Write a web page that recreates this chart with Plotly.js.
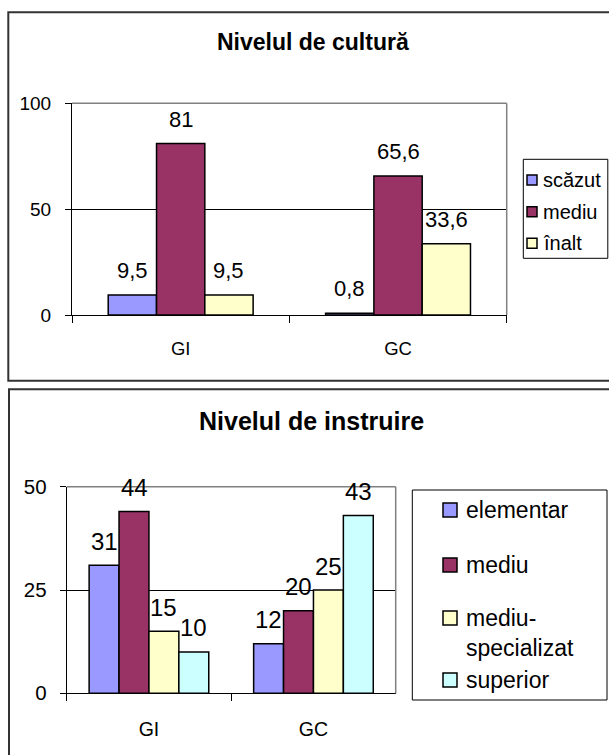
<!DOCTYPE html>
<html><head><meta charset="utf-8">
<script src="https://cdn.plot.ly/plotly-3.0.1.min.js"></script>
<style>html,body{margin:0;padding:0;background:#fff}#chart{width:609px;height:755px}</style>
</head><body><div id="chart"></div>
<script>
// ---- Chart 1: Nivelul de cultură ----
const cultTitle = 'Nivelul de cultură';
const cultCategories = ['GI', 'GC'];
const cultSeriesNames = ['scăzut', 'mediu', 'înalt'];
const cultScazut = [9.5, 0.8];
const cultMediu = [81, 65.6];
const cultInalt = [9.5, 33.6];
const cultTickVals = [0, 50, 100];

// ---- Chart 2: Nivelul de instruire ----
const instrTitle = 'Nivelul de instruire';
const instrCategories = ['GI', 'GC'];
const instrSeriesNames = ['elementar', 'mediu', 'mediu-specializat', 'superior'];
const instrElementar = [31, 12];
const instrMediu = [44, 20];
const instrMediuSpec = [15, 25];
const instrSuperior = [10, 43];
const instrTickVals = [0, 25, 50];

// ---- styling / layout helpers ----
const W = 609, H = 755;
const px = x => x / W, py = y => 1 - y / H;
const FONT = 'Arial, "Liberation Sans", sans-serif';
const cultColors = ['#9999FF', '#993366', '#FFFFCC'];
const instrColors = ['#9999FF', '#993366', '#FFFFCC', '#CCFFFF'];
const fmt = v => String(v).replace('.', ',');

const traces = [];
const annotations = [];
const shapes = [];

function addChart(cfg) {
  const n = cfg.series.length;
  const gapFrac = 1.5 / (n + 1.5);          // Excel gap width 150%
  const w = (1 - gapFrac) / n;
  cfg.series.forEach((vals, i) => {
    const off = -(1 - gapFrac) / 2 + i * w;
    traces.push({
      type: 'bar', x: cfg.categories, y: vals, name: cfg.names[i],
      xaxis: cfg.xa, yaxis: cfg.ya, width: w, offset: off,
      marker: {color: cfg.colors[i], line: {color: '#000', width: 1.5}},
      showlegend: false, hoverinfo: 'none'
    });
    vals.forEach((v, k) => {
      annotations.push({
        xref: cfg.xa, yref: cfg.ya, x: k + off + w / 2, y: v,
        text: fmt(v), showarrow: false, yanchor: 'middle', yshift: cfg.labelShift,
        font: {family: FONT, size: cfg.labelSize, color: '#000'}
      });
    });
  });
  // title
  annotations.push({
    xref: 'paper', yref: 'paper', x: px(cfg.titleX), y: py(cfg.titleY),
    text: '<b>' + cfg.title + '</b>', showarrow: false, xanchor: 'center', yanchor: 'middle',
    font: {family: FONT, size: cfg.titleSize, color: '#000'}
  });
  // frame
  shapes.push({type: 'rect', xref: 'paper', yref: 'paper', x0: px(cfg.frame[0]), x1: px(cfg.frame[2]),
    y0: py(cfg.frame[3]), y1: py(cfg.frame[1]), line: {color: '#333', width: 2}, layer: 'below'});
  // plot-area gray border (top and right)
  const pa = cfg.plot;
  shapes.push({type: 'line', xref: 'paper', yref: 'paper', x0: px(pa[0]), x1: px(pa[2]), y0: py(pa[1]), y1: py(pa[1]),
    line: {color: '#808080', width: 1.5}, layer: 'above'});
  shapes.push({type: 'line', xref: 'paper', yref: 'paper', x0: px(pa[2]), x1: px(pa[2]), y0: py(pa[1]), y1: py(pa[3]),
    line: {color: '#808080', width: 1.5}, layer: 'above'});
  // legend
  const lg = cfg.legend;
  shapes.push({type: 'rect', xref: 'paper', yref: 'paper', x0: px(lg.box[0]), x1: px(lg.box[2]),
    y0: py(lg.box[3]), y1: py(lg.box[1]), line: {color: '#000', width: 1}, fillcolor: '#fff', layer: 'below'});
  cfg.names.forEach((nm, i) => {
    const yc = lg.rows[i];
    const s = lg.sym;
    shapes.push({type: 'rect', xref: 'paper', yref: 'paper', x0: px(lg.symX), x1: px(lg.symX + s),
      y0: py(yc + s / 2), y1: py(yc - s / 2), fillcolor: cfg.colors[i], line: {color: '#000', width: 1.5}, layer: 'above'});
    const parts = nm.includes('-') ? nm.replace('-', '-<br>') : nm;
    const lines = parts.split('<br>').length;
    annotations.push({
      xref: 'paper', yref: 'paper', x: px(lg.textX), y: py(yc + (lines - 1) * lg.lineH / 2),
      text: parts, showarrow: false, xanchor: 'left', yanchor: 'middle', align: 'left',
      font: {family: FONT, size: lg.size, color: '#000'}
    });
  });
}

addChart({
  title: cultTitle, titleX: 312.8, titleY: 42, titleSize: 23,
  categories: cultCategories, names: cultSeriesNames, colors: cultColors,
  series: [cultScazut, cultMediu, cultInalt], xa: 'x', ya: 'y',
  labelSize: 22, labelShift: 24.5,
  frame: [8.3, 12.3, 640, 380.7], plot: [72, 103.3, 506.7, 315],
  legend: {box: [523.3, 159.3, 607.8, 258.3], rows: [180, 211.7, 243.3], sym: 10, symX: 527, textX: 541, size: 20, lineH: 26}
});
addChart({
  title: instrTitle, titleX: 311, titleY: 421, titleSize: 25,
  categories: instrCategories, names: instrSeriesNames, colors: instrColors,
  series: [instrElementar, instrMediu, instrMediuSpec, instrSuperior], xa: 'x2', ya: 'y2',
  labelSize: 24, labelShift: 24,
  frame: [9, 389.3, 640, 790], plot: [66.7, 486.7, 395.7, 693.3],
  legend: {box: [412.3, 490, 607, 700], rows: [510, 565, 618, 680], sym: 14, symX: 443, textX: 464, size: 23, lineH: 29.9}
});

const axX = (dom, size, standoff) => ({
  domain: dom, type: 'category', range: [-0.5, 1.5], showline: true, linecolor: '#000', linewidth: 1,
  ticks: 'outside', tickson: 'boundaries', ticklen: 7, tickcolor: '#000', tickwidth: 1,
  tickfont: {family: FONT, size: size, color: '#000'}, showgrid: false, zeroline: false,
  ticklabelstandoff: standoff, fixedrange: true
});
const axY = (dom, range, vals, size, standoff) => ({
  domain: dom, range: range, tickvals: vals, ticktext: vals.map(String), showline: true, linecolor: '#000', linewidth: 1,
  ticks: 'outside', ticklen: 6, tickcolor: '#000', tickwidth: 1, showgrid: true, gridcolor: '#000', gridwidth: 1,
  zeroline: false, tickfont: {family: FONT, size: size, color: '#000'}, ticklabelstandoff: standoff, fixedrange: true
});

const layout = {
  width: W, height: H, margin: {l: 0, r: 0, t: 0, b: 0}, showlegend: false,
  paper_bgcolor: '#fff', plot_bgcolor: '#fff', barmode: 'overlay',
  xaxis: Object.assign(axX([px(72), px(506.7)], 18.5, 17), {anchor: 'y'}),
  yaxis: Object.assign(axY([py(315), py(103.3)], [0, 100], cultTickVals, 19, 10), {anchor: 'x'}),
  xaxis2: Object.assign(axX([px(66.7), px(395.7)], 19.5, 18), {anchor: 'y2'}),
  yaxis2: Object.assign(axY([py(693.3), py(486.7)], [0, 50], instrTickVals, 20.5, 9), {anchor: 'x2'}),
  shapes: shapes, annotations: annotations
};

Plotly.newPlot('chart', traces, layout, {displayModeBar: false, staticPlot: true});
</script>
</body></html>
